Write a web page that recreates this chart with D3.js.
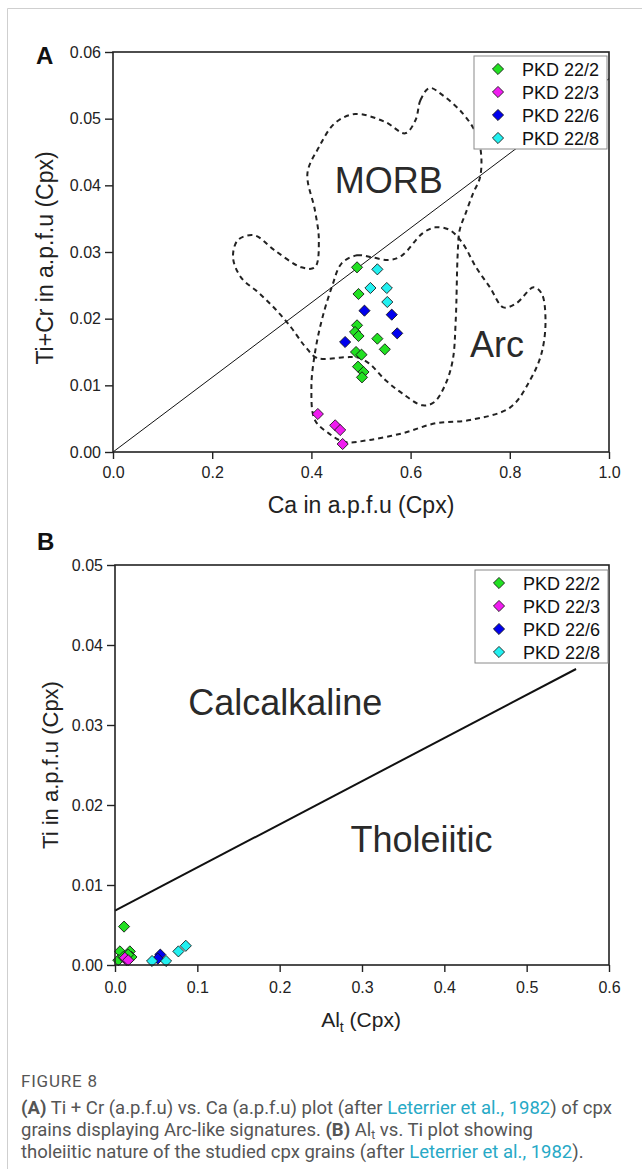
<!DOCTYPE html>
<html>
<head>
<meta charset="utf-8">
<script src="https://cdn.jsdelivr.net/npm/d3@7"></script>
<style>
  body { margin: 0; background: #fff; }
  svg text { font-family: "Liberation Sans", Arial, sans-serif; }
</style>
</head>
<body>
<div id="chart"></div>
<script>
// ---- data: panel A, Ti+Cr vs Ca (a.p.f.u) ----
var seriesNames = ['PKD 22/2', 'PKD 22/3', 'PKD 22/6', 'PKD 22/8'];

var a_222 = [[0.492, 0.0277], [0.495, 0.0237], [0.492, 0.0190], [0.488, 0.0180], [0.495, 0.0174],
             [0.533, 0.0170], [0.548, 0.0154], [0.490, 0.0150], [0.501, 0.0146], [0.494, 0.0128],
             [0.505, 0.0120], [0.502, 0.0112]];
var a_223 = [[0.413, 0.0057], [0.448, 0.0040], [0.458, 0.0033], [0.463, 0.0012]];
var a_226 = [[0.507, 0.0212], [0.562, 0.0206], [0.573, 0.0178], [0.468, 0.0165]];
var a_228 = [[0.533, 0.0274], [0.519, 0.0246], [0.552, 0.0246], [0.553, 0.0225]];

// discrimination fields (Leterrier et al., 1982)
var morbField = [[0.638, 0.0546], [0.620, 0.0528], [0.610, 0.0498], [0.589, 0.0478], [0.549, 0.0495],
                 [0.488, 0.0507], [0.447, 0.0493], [0.415, 0.0457], [0.392, 0.0418], [0.407, 0.0363],
                 [0.415, 0.0318], [0.407, 0.0277], [0.380, 0.0277], [0.325, 0.0303], [0.285, 0.0325],
                 [0.252, 0.0318], [0.242, 0.0292], [0.258, 0.0262], [0.295, 0.0238], [0.329, 0.0213],
                 [0.360, 0.0186], [0.380, 0.0165], [0.390, 0.0156], [0.411, 0.0141], [0.467, 0.0142],
                 [0.492, 0.0142], [0.516, 0.0133], [0.549, 0.0108], [0.583, 0.0088], [0.624, 0.0070],
                 [0.648, 0.0075], [0.671, 0.0103], [0.685, 0.0138], [0.691, 0.0198], [0.695, 0.0298],
                 [0.699, 0.0333], [0.711, 0.0358], [0.726, 0.0388], [0.740, 0.0412], [0.742, 0.0448],
                 [0.732, 0.0478], [0.705, 0.0508], [0.665, 0.0535]];
var arcField = [[0.461, 0.0283], [0.492, 0.0295], [0.522, 0.0292], [0.557, 0.0288], [0.583, 0.0295],
                [0.624, 0.0328], [0.650, 0.0337], [0.679, 0.0333], [0.705, 0.0313], [0.732, 0.0277],
                [0.760, 0.0247], [0.787, 0.0217], [0.813, 0.0223], [0.848, 0.0247], [0.864, 0.0238],
                [0.872, 0.0198], [0.864, 0.0148], [0.841, 0.0108], [0.801, 0.0067], [0.720, 0.0048],
                [0.650, 0.0043], [0.583, 0.0028], [0.516, 0.0018], [0.467, 0.0015], [0.435, 0.0028],
                [0.407, 0.0048], [0.400, 0.0097], [0.407, 0.0148], [0.421, 0.0198], [0.441, 0.0247]];
var divideA = [[0, 0], [1, 0.056]];

var xTicksA = [0, 0.2, 0.4, 0.6, 0.8, 1.0];
var yTicksA = [0, 0.01, 0.02, 0.03, 0.04, 0.05, 0.06];

// ---- data: panel B, Ti vs Al_t ----
var b_222 = [[0.011, 0.0048], [0.006, 0.0017], [0.004, 0.0006], [0.018, 0.0017], [0.020, 0.0010],
             [0.010, 0.0010], [0.016, 0.0013]];
var b_223 = [[0.014, 0.0006], [0.012, 0.0009], [0.016, 0.0006]];
var b_226 = [[0.055, 0.0013], [0.052, 0.0008]];
var b_228 = [[0.045, 0.0005], [0.062, 0.0005], [0.077, 0.0017], [0.086, 0.0024]];
var divideB = [[0, 0.0068], [0.56, 0.037]];

var xTicksB = [0, 0.1, 0.2, 0.3, 0.4, 0.5, 0.6];
var yTicksB = [0, 0.01, 0.02, 0.03, 0.04, 0.05];

var colors = ['#22e022', '#f01cf0', '#0000ee', '#22f0f0'];

var svg = d3.select('#chart')
  .append('svg')
    .attr('width', 642)
    .attr('height', 1169);

// card border
svg.append('path')
  .attr('d', 'M7.5,1169 V8.5 H642')
  .attr('fill', 'none')
  .attr('stroke', '#cfcfcf')
  .attr('stroke-width', 1);

function drawPanel(p) {
  var x = d3.scaleLinear().domain(p.xDomain).range([p.left, p.right]);
  var y = d3.scaleLinear().domain(p.yDomain).range([p.bottom, p.top]);
  var g = svg.append('g');

  // fields
  var smooth = d3.line()
    .x(function(d) { return x(d[0]); })
    .y(function(d) { return y(d[1]); })
    .curve(d3.curveCatmullRomClosed.alpha(0.5));
  (p.fields || []).forEach(function(f) {
    g.append('path')
      .attr('d', smooth(f))
      .attr('fill', 'none')
      .attr('stroke', '#222')
      .attr('stroke-width', 2)
      .attr('stroke-dasharray', '5,4');
  });

  // dividing line
  g.append('line')
    .attr('x1', x(p.divide[0][0])).attr('y1', y(p.divide[0][1]))
    .attr('x2', x(p.divide[1][0])).attr('y2', y(p.divide[1][1]))
    .attr('stroke', '#111')
    .attr('stroke-width', p.divideWidth);

  // points
  p.series.forEach(function(s, i) {
    g.selectAll(null)
      .data(s)
      .enter().append('path')
      .attr('d', d3.symbol().type(d3.symbolSquare).size(62))
      .attr('transform', function(d) { return 'translate(' + x(d[0]) + ',' + y(d[1]) + ') rotate(45)'; })
      .attr('fill', colors[i])
      .attr('stroke', '#111')
      .attr('stroke-width', 0.8);
  });

  // axes
  var xa = g.append('g')
    .attr('transform', 'translate(0,' + p.bottom + ')')
    .call(d3.axisBottom(x).tickValues(p.xTicks).tickFormat(d3.format('.1f')).tickSize(7).tickPadding(p.xPad));
  var ya = g.append('g')
    .attr('transform', 'translate(' + p.left + ',0)')
    .call(d3.axisLeft(y).tickValues(p.yTicks).tickFormat(d3.format('.2f')).tickSize(8).tickPadding(4));
  [xa, ya].forEach(function(a) {
    a.select('.domain').remove();
    a.selectAll('line').attr('stroke', '#222').attr('stroke-width', 1.4);
    a.selectAll('text')
      .style('font-family', '"Liberation Sans", Arial, sans-serif')
      .style('font-size', '16px')
      .attr('fill', '#222');
  });

  // frame
  g.append('rect')
    .attr('x', p.left).attr('y', p.top)
    .attr('width', p.right - p.left).attr('height', p.bottom - p.top)
    .attr('fill', 'none')
    .attr('stroke', '#222')
    .attr('stroke-width', 1.6);

  // field labels
  p.labels.forEach(function(l) {
    g.append('text')
      .attr('x', x(l.x)).attr('y', y(l.y))
      .style('font-size', '36px')
      .attr('fill', '#2a2a2a')
      .text(l.text);
  });

  // legend
  var lg = g.append('g');
  lg.append('rect')
    .attr('x', p.legend[0]).attr('y', p.legend[1])
    .attr('width', 133).attr('height', 93)
    .attr('fill', '#fff')
    .attr('stroke', '#8a8a8a')
    .attr('stroke-width', 1);
  seriesNames.forEach(function(n, i) {
    var ly = p.legend[1] + 13 + i * 23;
    lg.append('path')
      .attr('d', d3.symbol().type(d3.symbolSquare).size(62))
      .attr('transform', 'translate(' + (p.legend[0] + 24) + ',' + ly + ') rotate(45)')
      .attr('fill', colors[i])
      .attr('stroke', '#111')
      .attr('stroke-width', 0.8);
    lg.append('text')
      .attr('x', p.legend[0] + 48).attr('y', ly + 6.5)
      .style('font-size', '18px')
      .attr('fill', '#111')
      .text(n);
  });

  // panel letter
  g.append('text')
    .attr('x', p.letter[0]).attr('y', p.letter[1])
    .style('font-size', '24px')
    .style('font-weight', 'bold')
    .attr('fill', '#111')
    .text(p.letterText);

  return { x: x, y: y, g: g };
}

var A = drawPanel({
  xDomain: [0, 1], yDomain: [0, 0.06],
  left: 113, right: 609, top: 52, bottom: 452,
  xTicks: xTicksA, yTicks: yTicksA, xPad: 8,
  fields: [morbField, arcField],
  divide: divideA, divideWidth: 1,
  series: [a_222, a_223, a_226, a_228],
  labels: [{ text: 'MORB', x: 0.447, y: 0.0388 }, { text: 'Arc', x: 0.720, y: 0.0142 }],
  legend: [474, 56],
  letter: [36, 64], letterText: 'A'
});

A.g.append('text')
  .attr('x', 361).attr('y', 513)
  .attr('text-anchor', 'middle')
  .style('font-size', '23px')
  .attr('fill', '#222')
  .text('Ca in a.p.f.u (Cpx)');
A.g.append('text')
  .attr('transform', 'translate(53,258) rotate(-90)')
  .attr('text-anchor', 'middle')
  .style('font-size', '23px')
  .attr('fill', '#222')
  .text('Ti+Cr in a.p.f.u (Cpx)');

var B = drawPanel({
  xDomain: [0, 0.6], yDomain: [0, 0.05],
  left: 115, right: 609, top: 565, bottom: 965,
  xTicks: xTicksB, yTicks: yTicksB, xPad: 10,
  fields: [],
  divide: divideB, divideWidth: 2,
  series: [b_222, b_223, b_226, b_228],
  labels: [{ text: 'Calcalkaline', x: 0.089, y: 0.0312 }, { text: 'Tholeiitic', x: 0.286, y: 0.0141 }],
  legend: [475, 570],
  letter: [37, 550], letterText: 'B'
});

var bx = B.g.append('text')
  .attr('x', 361).attr('y', 1027)
  .attr('text-anchor', 'middle')
  .style('font-size', '21px')
  .attr('fill', '#222');
bx.append('tspan').text('Al');
bx.append('tspan').attr('dy', 5).style('font-size', '14px').text('t');
bx.append('tspan').attr('dy', -5).text(' (Cpx)');

B.g.append('text')
  .attr('transform', 'translate(58,765) rotate(-90)')
  .attr('text-anchor', 'middle')
  .style('font-size', '22px')
  .attr('fill', '#222')
  .text('Ti in a.p.f.u (Cpx)');

// caption
var capFont = 'Roboto, "Open Sans", sans-serif';
svg.append('text')
  .attr('x', 21).attr('y', 1087)
  .style('font-family', capFont)
  .style('font-size', '17px')
  .style('letter-spacing', '0.8px')
  .attr('fill', '#555')
  .text('FIGURE 8');

var capLines = [
  [['(A)', 'b'], [' Ti + Cr (a.p.f.u) vs. Ca (a.p.f.u) plot (after ', ''], ['Leterrier et al., 1982', 'l'], [') of cpx', '']],
  [['grains displaying Arc-like signatures. ', ''], ['(B)', 'b'], [' Al', ''], ['t', 's'], [' vs. Ti plot showing', 'u']],
  [['tholeiitic nature of the studied cpx grains (after ', ''], ['Leterrier et al., 1982', 'l'], [').', '']]
];
capLines.forEach(function(line, i) {
  var t = svg.append('text')
    .attr('x', 21).attr('y', 1114 + i * 22)
    .style('font-family', capFont)
    .style('font-size', '18.5px')
    .attr('fill', '#555');
  line.forEach(function(part) {
    var sp = t.append('tspan').text(part[0]);
    if (part[1] === 'b') sp.style('font-weight', 'bold');
    if (part[1] === 'l') sp.attr('fill', '#27a9c6');
    if (part[1] === 's') sp.attr('dy', 3).style('font-size', '12px');
    if (part[1] === 'u') sp.attr('dy', -3);
  });
});
</script>
</body>
</html>
